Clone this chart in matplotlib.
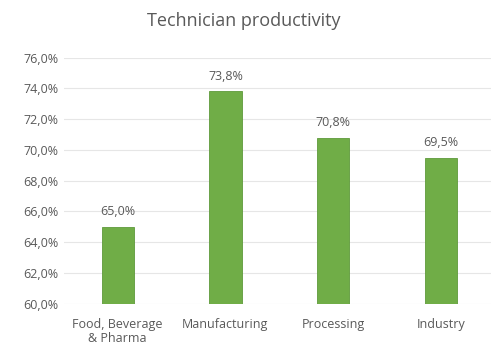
import matplotlib.pyplot as plt
import numpy as np

categories = ['Food, Beverage\n& Pharma', 'Manufacturing', 'Processing', 'Industry']
productivity = [65.0, 73.8, 70.8, 69.5]
y_ticks = [60, 62, 64, 66, 68, 70, 72, 74, 76]

plt.rcParams['font.family'] = ['Open Sans', 'DejaVu Sans']
text_color = '#595959'


def pct(v):
    return f'{v:.1f}%'.replace('.', ',')


fig = plt.figure(figsize=(4.91, 3.49), dpi=100)
ax = fig.add_axes([0.13, 0.13, 0.87, 0.705])

x = np.arange(len(categories))
bars = ax.bar(x, productivity, width=0.3, color='#70AD47', edgecolor='#5E9A3A',
              linewidth=0.6, zorder=3)

for xi, v in zip(x, productivity):
    ax.text(xi, v + 0.55, pct(v), ha='center', va='bottom', fontsize=9,
            color=text_color)

ax.set_ylim(60, 76)
ax.set_xlim(-0.5, 3.465)
ax.set_yticks(y_ticks)
ax.set_yticklabels([pct(t) for t in y_ticks], fontsize=9, color=text_color)
ax.set_xticks(x)
ax.set_xticklabels(categories, fontsize=9, color=text_color, linespacing=1.15)
ax.tick_params(axis='y', length=0, pad=4)
ax.tick_params(axis='x', length=0, pad=10)
ax.grid(axis='y', color='#e6e6e6', linewidth=0.8, zorder=0)
for s in ax.spines.values():
    s.set_visible(False)

fig.text(0.497, 0.94, 'Technician productivity', ha='center', va='center',
         fontsize=13, color=text_color)

fig.savefig('out.png', dpi=100)
